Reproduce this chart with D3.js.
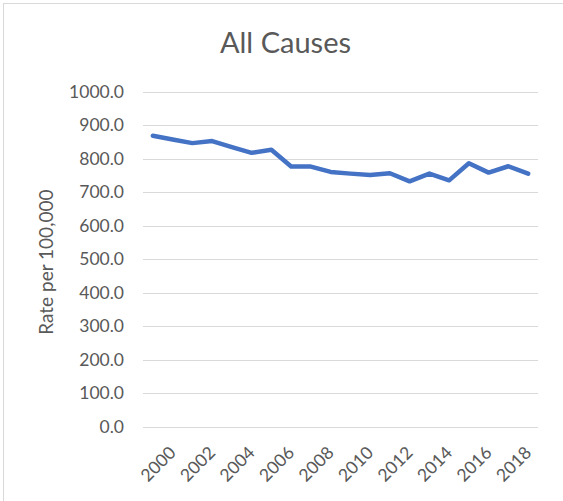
<!DOCTYPE html>
<html>
<head>
<meta charset="utf-8">
<script src="https://cdn.jsdelivr.net/npm/d3@7"></script>
<style>
  html, body { margin: 0; padding: 0; background: #fff; }
  svg { display: block; }
  text { font-family: Lato, "Open Sans", sans-serif; fill: #595959; }
</style>
</head>
<body>
<svg id="chart" width="563" height="501"></svg>
<script>
const years = ["2000","2001","2002","2003","2004","2005","2006","2007","2008","2009",
               "2010","2011","2012","2013","2014","2015","2016","2017","2018","2019"];
const rates = [868, 857, 846, 852, 834, 817, 826, 776, 776, 760,
               755, 751, 756, 732, 755, 735, 786, 758, 777, 755];
const yTicks = [0, 100, 200, 300, 400, 500, 600, 700, 800, 900, 1000];
const xTickLabels = ["2000","2002","2004","2006","2008","2010","2012","2014","2016","2018"];
const title = "All Causes";
const yTitle = "Rate per 100,000";

const svg = d3.select("#chart");
const W = 563, H = 501;
const plot = { left: 143, right: 538, top: 91.5, bottom: 426.7 };

// outer chart border
svg.append("rect")
  .attr("x", 3.5).attr("y", 3.5)
  .attr("width", W + 10).attr("height", H + 10)
  .attr("fill", "#fff").attr("stroke", "#d9d9d9").attr("stroke-width", 1);

const x = d3.scaleBand().domain(years).range([plot.left, plot.right]);
const y = d3.scaleLinear().domain([0, 1000]).range([plot.bottom, plot.top]);

// gridlines
svg.append("g")
  .selectAll("line")
  .data(yTicks)
  .join("line")
  .attr("x1", plot.left).attr("x2", plot.right)
  .attr("y1", d => Math.round(y(d)) + 0.5).attr("y2", d => Math.round(y(d)) + 0.5)
  .attr("stroke", "#d9d9d9").attr("stroke-width", 1);

// y axis labels
const yAxis = d3.axisLeft(y).tickValues(yTicks).tickFormat(d3.format(".1f")).tickSize(0).tickPadding(0);
const yg = svg.append("g").attr("transform", `translate(${plot.left - 19},0)`).call(yAxis);
yg.select(".domain").remove();
yg.selectAll("text").attr("font-size", 17.5).attr("fill", "#595959").style("font-family", "Lato, sans-serif");

// x axis labels
const xAxis = d3.axisBottom(x).tickValues(xTickLabels).tickSize(0).tickFormat(d => d);
const xg = svg.append("g").attr("transform", `translate(0,${plot.bottom})`).call(xAxis);
xg.select(".domain").remove();
xg.selectAll(".tick text")
  .attr("font-size", 17.5)
  .attr("fill", "#595959")
  .style("font-family", "Lato, sans-serif")
  .attr("text-anchor", "middle")
  .attr("dy", null)
  .attr("y", null)
  .attr("dominant-baseline", "central")
  .attr("transform", "translate(5,37) rotate(-45)");

// line
const line = d3.line()
  .x((d, i) => x(years[i]) + x.bandwidth() / 2)
  .y(d => y(d));
svg.append("path")
  .datum(rates)
  .attr("d", line)
  .attr("fill", "none")
  .attr("stroke", "#4472c4")
  .attr("stroke-width", 4.5)
  .attr("stroke-linejoin", "round")
  .attr("stroke-linecap", "round");

// title
svg.append("text")
  .attr("x", 285.5).attr("y", 53)
  .attr("text-anchor", "middle")
  .attr("font-size", 29)
  .text(title);

// y axis title
svg.append("text")
  .attr("transform", `translate(53,${(plot.top + plot.bottom) / 2 + 3}) rotate(-90)`)
  .attr("text-anchor", "middle")
  .attr("font-size", 19)
  .text(yTitle);
</script>
</body>
</html>
